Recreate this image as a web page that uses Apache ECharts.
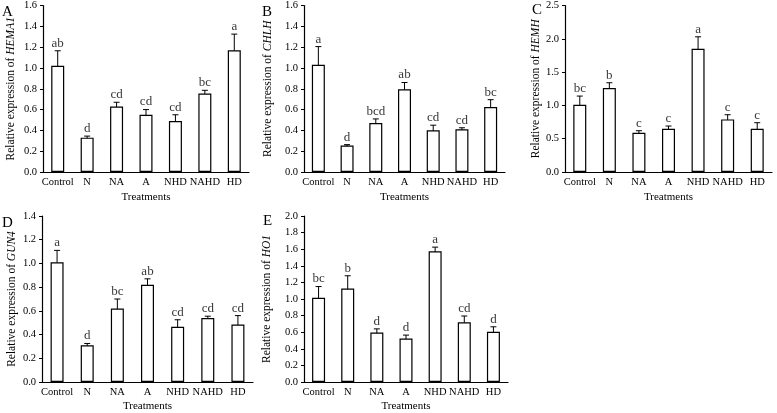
<!DOCTYPE html>
<html>
<head>
<meta charset="utf-8">
<script src="https://cdn.jsdelivr.net/npm/echarts@6/dist/echarts.min.js"></script>
<style>html,body{margin:0;padding:0;background:#fff}#c{width:777px;height:413px}</style>
</head>
<body>
<div id="c"></div>
<script>
const categories = ['Control','N','NA','A','NHD','NAHD','HD'];

const hema1Values = [1.02, 0.33, 0.63, 0.55, 0.49, 0.755, 1.17];
const hema1Errors = [0.145, 0.015, 0.04, 0.05, 0.06, 0.03, 0.155];
const hema1Letters = ['ab','d','cd','cd','cd','bc','a'];

const chlhValues = [1.03, 0.255, 0.47, 0.795, 0.40, 0.41, 0.625];
const chlhErrors = [0.175, 0.008, 0.04, 0.065, 0.05, 0.015, 0.07];
const chlhLetters = ['a','d','bcd','ab','cd','cd','bc'];

const hemhValues = [1.01, 1.26, 0.59, 0.65, 1.85, 0.79, 0.65];
const hemhErrors = [0.13, 0.08, 0.03, 0.04, 0.18, 0.07, 0.09];
const hemhLetters = ['bc','b','c','c','a','c','c'];

const gun4Values = [1.01, 0.31, 0.62, 0.82, 0.465, 0.54, 0.485];
const gun4Errors = [0.10, 0.015, 0.08, 0.05, 0.06, 0.015, 0.075];
const gun4Letters = ['a','d','bc','ab','cd','cd','cd'];

const ho1Values = [1.015, 1.125, 0.595, 0.525, 1.575, 0.72, 0.605];
const ho1Errors = [0.135, 0.155, 0.045, 0.04, 0.05, 0.075, 0.06];
const ho1Letters = ['bc','b','d','d','a','cd','d'];

const yMax = [1.6, 1.6, 2.5, 1.4, 2.0];
const yInterval = [0.2, 0.2, 0.5, 0.2, 0.2];
const geneNames = ['HEMA1','CHLH','HEMH','GUN4','HO1'];
const panelLetters = ['A','B','C','D','E'];

const panels = [
  {v: hema1Values, e: hema1Errors, l: hema1Letters},
  {v: chlhValues, e: chlhErrors, l: chlhLetters},
  {v: hemhValues, e: hemhErrors, l: hemhLetters},
  {v: gun4Values, e: gun4Errors, l: gun4Letters},
  {v: ho1Values, e: ho1Errors, l: ho1Letters}
];

const gridPos = [
  {left: 43, top: 4, width: 206, height: 168},
  {left: 304, top: 4, width: 201, height: 168},
  {left: 565, top: 4, width: 207, height: 168},
  {left: 42, top: 216, width: 211, height: 167},
  {left: 304, top: 216, width: 204, height: 168}
];
const yNameGap = [26, 30, 20, 24, 31];
const xNameGap = [20, 20, 20, 19, 19];
const letterPos = [[2, 5], [262, 5], [532, 3], [2, 216], [263, 214]];

const font = '"Liberation Serif", "Times New Roman", serif';

const grids = [], xAxes = [], yAxes = [], series = [], graphics = [];

panels.forEach((p, k) => {
  grids.push(Object.assign({containLabel: false}, gridPos[k]));
  xAxes.push({
    type: 'category', gridIndex: k, data: categories,
    name: 'Treatments', nameLocation: 'middle', nameGap: xNameGap[k],
    nameTextStyle: {fontFamily: font, fontSize: 11, color: '#000'},
    axisLine: {lineStyle: {color: '#000', width: 1.2}},
    axisTick: {show: false},
    axisLabel: {fontFamily: font, fontSize: 10.5, color: '#000', margin: 5, interval: 0}
  });
  yAxes.push({
    type: 'value', gridIndex: k, min: 0, max: yMax[k], interval: yInterval[k],
    name: '{n|Relative expression of }{i|' + geneNames[k] + '}',
    nameLocation: 'middle', nameGap: yNameGap[k],
    nameTextStyle: {
      fontFamily: font, fontSize: 11.5, color: '#000',
      rich: {
        n: {fontFamily: font, fontSize: 11.5, color: '#000'},
        i: {fontFamily: font, fontSize: 11.5, color: '#000', fontStyle: 'italic'}
      }
    },
    splitLine: {show: false},
    axisLine: {show: true, lineStyle: {color: '#000', width: 1.2}},
    axisTick: {show: true, length: 3, lineStyle: {color: '#000', width: 1}},
    axisLabel: {fontFamily: font, fontSize: 10.5, color: '#000', margin: 6,
      formatter: v => v.toFixed(1)}
  });
  series.push({
    type: 'bar', xAxisIndex: k, yAxisIndex: k, data: p.v, barWidth: 13,
    itemStyle: {color: '#fff', borderColor: '#000', borderWidth: 1.2},
    silent: true, animation: false
  });
  series.push({
    type: 'custom', xAxisIndex: k, yAxisIndex: k, animation: false, silent: true,
    data: p.v.map((v, i) => [i, v, p.e[i]]),
    renderItem: (params, api) => {
      const x = api.value(0), v = api.value(1), e = api.value(2);
      const t = api.coord([x, v + e]);
      const b = api.coord([x, v - e]);
      const hw = 3;
      const st = {stroke: '#000', lineWidth: 1};
      return {type: 'group', children: [
        {type: 'line', shape: {x1: t[0], y1: t[1], x2: b[0], y2: b[1]}, style: st},
        {type: 'line', shape: {x1: t[0]-hw, y1: t[1], x2: t[0]+hw, y2: t[1]}, style: st},
        {type: 'line', shape: {x1: b[0]-hw, y1: b[1], x2: b[0]+hw, y2: b[1]}, style: st}
      ]};
    }
  });
  series.push({
    type: 'scatter', xAxisIndex: k, yAxisIndex: k, symbolSize: 0, animation: false, silent: true,
    data: p.v.map((v, i) => [i, v + p.e[i]]),
    label: {show: true, position: 'top', distance: 1,
      fontFamily: font, fontSize: 13, color: '#000',
      formatter: prm => p.l[prm.dataIndex]}
  });
  graphics.push({
    type: 'text', left: letterPos[k][0], top: letterPos[k][1],
    style: {text: panelLetters[k], fontFamily: font, fontSize: 15, fill: '#000'}
  });
});

const chart = echarts.init(document.getElementById('c'), null, {renderer: 'canvas'});
chart.setOption({
  animation: false,
  backgroundColor: '#fff',
  grid: grids, xAxis: xAxes, yAxis: yAxes, series: series, graphic: graphics
});
</script>
</body>
</html>
